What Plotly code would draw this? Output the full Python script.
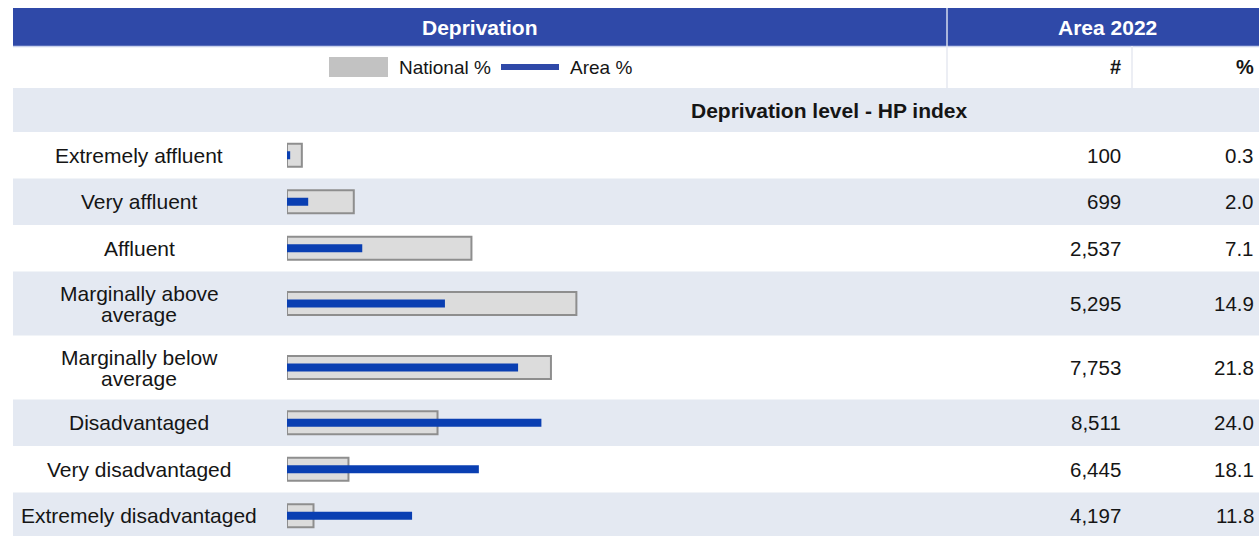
import plotly.graph_objects as go

# ---- data ----
categories = ["Extremely affluent", "Very affluent", "Affluent",
              "Marginally above<br>average", "Marginally below<br>average",
              "Disadvantaged", "Very disadvantaged", "Extremely disadvantaged"]
national_pct = [1.4, 6.3, 17.4, 27.3, 24.9, 14.2, 5.8, 2.5]
area_pct = [0.3, 2.0, 7.1, 14.9, 21.8, 24.0, 18.1, 11.8]
area_count = ["100", "699", "2,537", "5,295", "7,753", "8,511", "6,445", "4,197"]
area_pct_labels = ["0.3", "2.0", "7.1", "14.9", "21.8", "24.0", "18.1", "11.8"]

title_left = "Deprivation"
title_right = "Area 2022"
section_title = "Deprivation level - HP index"

# ---- layout constants (pixels) ----
W, H = 1259, 536
LEFT = 13
DIV1 = 947
DIV2 = 1132
BAR0 = 287
PX_PER_PCT = 10.6
HEAD_TOP, HEAD_BOT = 8, 46
LEG_BOT = 88
SEC_BOT = 132
ROW_SINGLE, ROW_DOUBLE = 46.5, 64
LINE_GAP = 21

HEADER_BLUE = "#2F49A8"
BAND = "#E4E9F2"
TXT = "#151515"
FONT = "Liberation Sans, Arial, sans-serif"

def px(x):
    return x / W

# row geometry derived from number of label lines
tops, centers = [], []
y = SEC_BOT
for c in categories:
    h = ROW_DOUBLE if "<br>" in c else ROW_SINGLE
    tops.append(y)
    centers.append(y + h / 2)
    y += h
bottoms = tops[1:] + [y]

fig = go.Figure()
fig.add_trace(go.Bar(
    y=centers, x=national_pct, orientation="h", width=23,
    marker=dict(color="#DCDCDC", line=dict(color="#8E8E8E", width=2)),
    name="National %", hoverinfo="x"))
fig.add_trace(go.Bar(
    y=centers, x=area_pct, orientation="h", width=8,
    marker=dict(color="#0A3FB2", line=dict(width=0)),
    name="Area %", hoverinfo="x"))

shapes = []
# header band
shapes.append(dict(type="rect", xref="paper", yref="y", x0=px(LEFT), x1=1.0,
                   y0=HEAD_TOP, y1=HEAD_BOT, fillcolor=HEADER_BLUE, line=dict(width=0), layer="below"))
shapes.append(dict(type="line", xref="paper", yref="y", x0=px(LEFT), x1=1.0,
                   y0=HEAD_BOT + 0.5, y1=HEAD_BOT + 0.5, line=dict(color="#C9D2EC", width=1.5), layer="below"))
# section band
shapes.append(dict(type="rect", xref="paper", yref="y", x0=px(LEFT), x1=1.0,
                   y0=LEG_BOT, y1=SEC_BOT, fillcolor=BAND, line=dict(width=0), layer="below"))
# alternating row bands
for i in range(len(categories)):
    if i % 2 == 1:
        shapes.append(dict(type="rect", xref="paper", yref="y", x0=px(LEFT), x1=1.0,
                           y0=tops[i], y1=bottoms[i], fillcolor=BAND, line=dict(width=0), layer="below"))
# dividers
shapes.append(dict(type="line", xref="paper", yref="y", x0=px(DIV1), x1=px(DIV1),
                   y0=HEAD_TOP, y1=HEAD_BOT, line=dict(color="#D5DBEE", width=1.5), layer="above"))
shapes.append(dict(type="line", xref="paper", yref="y", x0=px(DIV1), x1=px(DIV1),
                   y0=HEAD_BOT, y1=LEG_BOT, line=dict(color="#E6E9F0", width=1.5), layer="below"))
shapes.append(dict(type="line", xref="paper", yref="y", x0=px(DIV2), x1=px(DIV2),
                   y0=HEAD_BOT, y1=LEG_BOT, line=dict(color="#E6E9F0", width=1.5), layer="below"))
# legend symbols
shapes.append(dict(type="rect", xref="paper", yref="y", x0=px(329), x1=px(388),
                   y0=57, y1=77, fillcolor="#C2C2C2", line=dict(width=0)))
shapes.append(dict(type="rect", xref="paper", yref="y", x0=px(501), x1=px(559),
                   y0=64, y1=70, fillcolor=HEADER_BLUE, line=dict(width=0)))

ann = []
def A(text, x, y, xanchor="center", size=21, bold=False, color=TXT):
    ann.append(dict(text=f"<b>{text}</b>" if bold else text, xref="paper", yref="y",
                    x=px(x), y=y, xanchor=xanchor, yanchor="middle", showarrow=False,
                    font=dict(family=FONT, size=size, color=color)))

A(title_left, (LEFT + DIV1) / 2, (HEAD_TOP + HEAD_BOT) / 2 + 0.5, size=21, bold=True, color="white")
A(title_right, 1107, (HEAD_TOP + HEAD_BOT) / 2 + 0.5, size=21, bold=True, color="white")
A("National %", 397, 67, xanchor="left", size=19)
A("Area %", 568, 67, xanchor="left", size=19)
A("#", 1123, 67, xanchor="right", size=20, bold=True)
A("%", 1256, 67, xanchor="right", size=20, bold=True)
A(section_title, 830, (LEG_BOT + SEC_BOT) / 2, size=21, bold=True)

for i, c in enumerate(categories):
    lines = c.split("<br>")
    n = len(lines)
    for k, ln in enumerate(lines):
        A(ln, 139, centers[i] + (k - (n - 1) / 2) * LINE_GAP, size=21)
    A(area_count[i], 1123, centers[i], xanchor="right", size=20.5)
    A(area_pct_labels[i], 1256, centers[i], xanchor="right", size=20.5)

fig.update_layout(
    width=W, height=H, margin=dict(l=0, r=0, t=0, b=0),
    paper_bgcolor="white", plot_bgcolor="rgba(0,0,0,0)",
    barmode="overlay", showlegend=False,
    shapes=shapes, annotations=ann,
    xaxis=dict(domain=[px(BAR0), px(DIV1)], range=[0, (DIV1 - BAR0) / PX_PER_PCT],
               visible=False, fixedrange=True),
    yaxis=dict(domain=[0, 1], range=[H, 0], visible=False, fixedrange=True),
    font=dict(family=FONT),
)

fig.write_html("out.html", config={"displayModeBar": False},
               post_script="document.body.style.margin='0';document.body.style.overflow='hidden';")
